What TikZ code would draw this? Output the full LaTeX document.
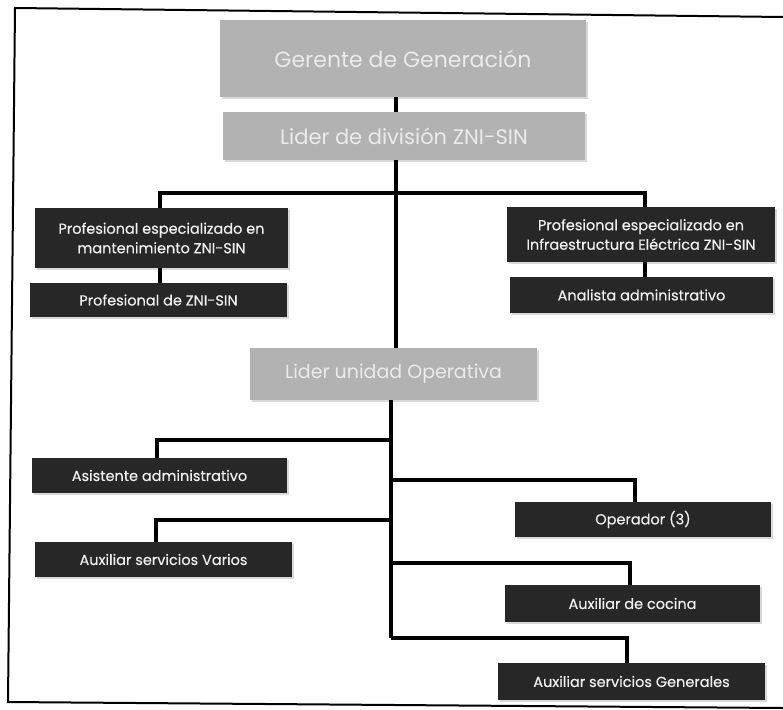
\documentclass[tikz,border=0pt]{standalone}
\usepackage{fontspec}
\setmainfont{Poppins}
\usetikzlibrary{shadows}
\definecolor{lightbox}{HTML}{B2B2B2}
\definecolor{lighttext}{HTML}{EBEBEB}
\definecolor{darkbox}{HTML}{272727}
\definecolor{darktext}{HTML}{F0F0F0}
\tikzset{
  graybox/.style={fill=lightbox, text=lighttext, inner sep=0pt, align=center,
    drop shadow={shadow xshift=2pt, shadow yshift=-2pt, opacity=0.3}},
  darkbox/.style={fill=darkbox, text=darktext, inner sep=0pt, align=center,
    font=\fontsize{14.5}{19.5}\selectfont\addfontfeatures{FakeBold=0.4},
    drop shadow={shadow xshift=2pt, shadow yshift=-2pt, opacity=0.3}},
  conn/.style={line width=3.6pt, black},
  framel/.style={line width=2pt, black}
}
\begin{document}
\begin{tikzpicture}[x=1pt,y=-1pt]
\useasboundingbox (0,0) rectangle (783,709);
% frame (open on the right, as scanned)
\coordinate (f1) at (15,8);
\coordinate (f2) at (783,17);
\coordinate (f3) at (8,702);
\coordinate (f4) at (783,708);
\draw[framel] (f2) -- (f1) -- (f3) -- (f4);

% top gray boxes
\node[graybox, minimum width=366pt, minimum height=77pt, font=\fontsize{22}{26}\selectfont] (ger) at (403,58.5) {Gerente de Generación};
\node[graybox, minimum width=362pt, minimum height=48pt, font=\fontsize{21}{25}\selectfont] (lid) at (404,136) {Lider de división ZNI-SIN};

% second level
\node[darkbox, minimum width=253pt, minimum height=60pt] (pe1) at (161.5,238) {Profesional especializado en\\mantenimiento ZNI-SIN};
\node[darkbox, minimum width=257pt, minimum height=34pt] (pp) at (158.5,300) {Profesional de ZNI-SIN};
\node[darkbox, minimum width=268pt, minimum height=55pt] (pe2) at (641,234.5) {Profesional especializado en\\Infraestructura Eléctrica ZNI-SIN};
\node[darkbox, minimum width=263pt, minimum height=36pt] (an) at (641.5,295) {Analista administrativo};

\node[graybox, minimum width=287pt, minimum height=52pt, font=\fontsize{19}{22}\selectfont] (lu) at (393.5,374) {Lider unidad Operativa};

% third level
\node[darkbox, minimum width=255pt, minimum height=35pt] (as) at (159.5,475.5) {Asistente administrativo};
\node[darkbox, minimum width=256pt, minimum height=35pt] (op) at (643,519.5) {Operador (3)};
\node[darkbox, minimum width=257pt, minimum height=35pt] (av) at (163.5,559.5) {Auxiliar servicios Varios};
\node[darkbox, minimum width=255pt, minimum height=37pt] (ac) at (632.5,603.5) {Auxiliar de cocina};
\node[darkbox, minimum width=267pt, minimum height=37pt] (ag) at (631.5,681.5) {Auxiliar servicios Generales};

% junctions
\coordinate (b1) at (396,193);
\coordinate (jas) at (391,440);
\coordinate (jop) at (391,480);
\coordinate (jav) at (391,520);
\coordinate (jac) at (391,563);
\coordinate (jag) at (391,638);

% connectors
\draw[conn] (ger.south -| b1) -- (lid.north -| b1);
\draw[conn] (lid.south -| b1) -- (lu.north -| b1);
\draw[conn] ([xshift=-1.5pt]pe1.north) -- ([xshift=-1.5pt]pe1.north |- b1) -- ([xshift=4pt]pe2.north |- b1) -- ([xshift=4pt]pe2.north);
\draw[conn] ([xshift=-1.5pt]pe1.south) -- ([xshift=-1.5pt]pe1.south |- pp.north);
\draw[conn] ([xshift=4pt]pe2.south) -- ([xshift=4pt]pe2.south |- an.north);
\draw[conn] (lu.south -| jag) -- (jag);
\draw[conn] (jas) -| ([xshift=-2.5pt]as.north);
\draw[conn] (jop) -| ([xshift=-8pt]op.north);
\draw[conn] (jav) -| ([xshift=-7.5pt]av.north);
\draw[conn] (jac) -| ([xshift=-2.5pt]ac.north);
\draw[conn] (jag) -| ([xshift=-4.5pt]ag.north);
\end{tikzpicture}
\end{document}
